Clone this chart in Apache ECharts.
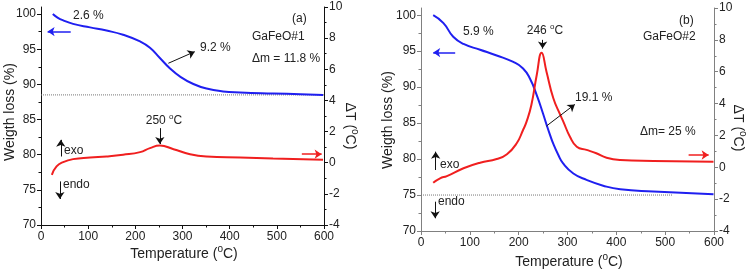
<!DOCTYPE html>
<html><head><meta charset="utf-8">
<script src="https://cdn.jsdelivr.net/npm/echarts@6/dist/echarts.min.js"></script>
<style>html,body{margin:0;padding:0;background:#fff}#c{width:749px;height:272px}</style>
</head><body><div id="c"></div>
<script>
// ---------- data ----------
const weightMajor = [70, 75, 80, 85, 90, 95, 100];
const weightMinor = [72.5, 77.5, 82.5, 87.5, 92.5, 97.5];

// Panel (a) GaFeO#1 – TG (weight %, left axis)
const tgA_T = [25, 35, 47, 68, 104, 139, 174, 210, 231, 252, 273, 295, 323, 351, 386, 422, 492, 550, 598];
const tgA_W = [100.0, 99.5, 99.1, 98.6, 98.1, 97.65, 97.05, 96.1, 95.2, 93.75, 92.3, 91.1, 90.05, 89.4, 89.0, 88.85, 88.7, 88.6, 88.5];
// Panel (a) DTA (ΔT, right axis)
const dtaA_T = [23, 33, 47, 68, 104, 139, 174, 210, 231, 252, 281, 316, 351, 422, 492, 598];
const dtaA_V = [-0.78, -0.24, 0.04, 0.23, 0.33, 0.40, 0.51, 0.68, 0.94, 1.10, 0.87, 0.55, 0.40, 0.33, 0.27, 0.19];
// Panel (a) dotted baseline
const baseA_T = [0, 600];
const baseA_W = [88.5, 88.5];

// Panel (b) GaFeO#2 – TG
const tgB_T = [25, 46, 66, 87, 121, 155, 189, 209, 223, 237, 250, 257, 264, 271, 281, 291, 312, 339, 373, 408, 476, 599];
const tgB_W = [100.0, 98.9, 97.0, 96.0, 95.2, 94.4, 93.5, 92.6, 91.2, 88.9, 86.3, 84.8, 83.4, 82.1, 80.6, 79.4, 78.0, 77.1, 76.3, 75.8, 75.5, 75.1];
// Panel (b) DTA
const dtaB_T = [25, 39, 53, 87, 121, 155, 176, 196, 209, 216, 226, 237, 247, 257, 271, 285, 291, 305, 319, 339, 359, 380, 408, 476, 599];
const dtaB_V = [-0.97, -0.69, -0.55, -0.06, 0.29, 0.52, 0.82, 1.51, 2.34, 2.85, 3.91, 5.79, 7.19, 6.0, 4.33, 3.3, 2.9, 1.92, 1.29, 1.09, 0.88, 0.60, 0.46, 0.40, 0.35];
// Panel (b) dotted baseline
const baseB_T = [0, 516];
const baseB_W = [75, 75];

// annotation arrows in data coordinates
const arrowsA_W = [
  { from: [63, 97.5], to: [14, 97.5], color: '#1f1ff0', w: 1.5 },
  { from: [270, 93.0], to: [326, 94.65], color: '#111', w: 1 }
];
const arrowsA_T = [
  { from: [252, 2.22], to: [252, 1.2], color: '#111', w: 1 },
  { from: [42, 0.4], to: [42, 1.47], color: '#111', w: 1 },
  { from: [40, -1.2], to: [40, -2.33], color: '#111', w: 1 },
  { from: [553, 0.55], to: [595, 0.55], color: '#f01f1f', w: 1.5 }
];
const arrowsB_W = [
  { from: [70, 94.8], to: [25, 94.8], color: '#1f1ff0', w: 1.5 },
  { from: [257, 84.6], to: [315, 87.6], color: '#111', w: 1 }
];
const arrowsB_T = [
  { from: [249, 8.0], to: [249, 7.45], color: '#111', w: 1 },
  { from: [30, -0.17], to: [30, 0.98], color: '#111', w: 1 },
  { from: [29, -2.16], to: [29, -3.2], color: '#111', w: 1 },
  { from: [548, 0.77], to: [589, 0.77], color: '#f01f1f', w: 1.5 }
];

// ---------- chart ----------
const FONT = "'Liberation Sans', Arial, sans-serif";
const zip = (a, b) => a.map((v, i) => [v, b[i]]);
const mkArrows = list => ({
  silent: true, animation: false, symbol: ['none', 'arrow'], symbolSize: 7,
  label: { show: false },
  data: list.map(a => [
    { coord: a.from, lineStyle: { color: a.color, width: a.w, type: 'solid' }, itemStyle: { color: a.color } },
    { coord: a.to, itemStyle: { color: a.color } }
  ])
});

function xAxis(grid, col) {
  return {
    type: 'value', gridIndex: grid, min: 0, max: 600, interval: 100,
    axisLine: { show: true, onZero: false, lineStyle: { color: col, width: 1 } },
    axisTick: { show: true, inside: false, length: 4, lineStyle: { color: col } },
    minorTick: { show: true, splitNumber: 2, length: 2.5, lineStyle: { color: col } },
    axisLabel: { color: '#222', fontSize: 12, fontFamily: FONT, margin: 6 },
    splitLine: { show: false }, minorSplitLine: { show: false }
  };
}
function yLeft(grid, col) {
  return {
    type: 'value', gridIndex: grid, position: 'left', min: 70, max: 101,
    axisLine: { show: true, onZero: false, lineStyle: { color: col } },
    axisTick: { show: true, inside: false, length: 4, customValues: weightMajor, lineStyle: { color: col } },
    axisLabel: { color: '#222', fontSize: 12, fontFamily: FONT, margin: 5, customValues: weightMajor },
    splitLine: { show: false }
  };
}
function yLeftMinor(grid, col) {
  return {
    type: 'value', gridIndex: grid, position: 'left', min: 70, max: 101,
    axisLine: { show: false },
    axisTick: { show: true, inside: false, length: 2.5, customValues: weightMinor, lineStyle: { color: col } },
    axisLabel: { show: false },
    splitLine: { show: false }
  };
}
function yRight(grid, col) {
  return {
    type: 'value', gridIndex: grid, position: 'right', min: -4, max: 10, interval: 2,
    axisLine: { show: true, onZero: false, lineStyle: { color: col } },
    axisTick: { show: true, inside: false, length: 4, lineStyle: { color: col } },
    minorTick: { show: true, splitNumber: 2, length: 2.5, lineStyle: { color: col } },
    axisLabel: { color: '#222', fontSize: 12, fontFamily: FONT, margin: 5 },
    splitLine: { show: false }, minorSplitLine: { show: false }
  };
}

const BLUE = '#1f1ff0', RED = '#f01f1f';
const lineS = (xi, yi, data, color, arrows) => ({
  type: 'line', xAxisIndex: xi, yAxisIndex: yi, data, smooth: 0.5,
  symbol: 'none', lineStyle: { color, width: 2 }, itemStyle: { color }, animation: false,
  markLine: arrows ? mkArrows(arrows) : undefined
});
const dotS = (xi, yi, data) => ({
  type: 'line', xAxisIndex: xi, yAxisIndex: yi, data, symbol: 'none', animation: false,
  lineStyle: { color: '#777', width: 1, type: [1, 1] }, z: 1
});

const txt = (x, y, text, opts = {}) => {
  const size = opts.size || 12;
  const style = {
    text, fill: '#222', font: size + 'px ' + FONT,
    fontSize: size, fontFamily: FONT,
    align: opts.align || 'left', verticalAlign: 'middle'
  };
  if (opts.sup) {
    style.lineHeight = size + 5;
    style.rich = { s: { fontSize: Math.round(size * 0.68), fontFamily: FONT, verticalAlign: 'top', lineHeight: Math.round(size * 0.68), fill: '#222' } };
  }
  return { type: 'text', x, y, rotation: opts.rot || 0, silent: true, style };
};

const option = {
  backgroundColor: '#fff',
  animation: false,
  grid: [
    { left: 41, top: 7, width: 283, height: 218 },
    { left: 421, top: 8, width: 293, height: 223 }
  ],
  xAxis: [xAxis(0, '#111'), xAxis(1, '#808080')],
  yAxis: [
    yLeft(0, '#111'), yRight(0, '#111'), yLeftMinor(0, '#111'),
    yLeft(1, '#808080'), yRight(1, '#808080'), yLeftMinor(1, '#808080')
  ],
  series: [
    dotS(0, 0, zip(baseA_T, baseA_W)),
    lineS(0, 0, zip(tgA_T, tgA_W), BLUE, arrowsA_W),
    lineS(0, 1, zip(dtaA_T, dtaA_V), RED, arrowsA_T),
    dotS(1, 3, zip(baseB_T, baseB_W)),
    lineS(1, 3, zip(tgB_T, tgB_W), BLUE, arrowsB_W),
    lineS(1, 4, zip(dtaB_T, dtaB_V), RED, arrowsB_T)
  ],
  graphic: [
    // panel a
    txt(73, 16, '2.6 %'),
    txt(200, 48, '9.2 %'),
    txt(292, 19, '(a)'),
    txt(252, 37, 'GaFeO#1'),
    txt(252, 59, '\u0394m = 11.8 %'),
    txt(164, 121, '250 {s|o}C', { align: 'center', sup: true }),
    txt(64, 151, 'exo'),
    txt(63, 185, 'endo'),
    txt(10, 112, 'Weigth loss (%)', { rot: Math.PI / 2, align: 'center', size: 14 }),
    txt(184, 254, 'Temperature ({s|o}C)', { align: 'center', size: 14, sup: true }),
    txt(350, 126, '\u0394T ({s|o}C)', { rot: -Math.PI / 2, align: 'center', size: 14, sup: true }),
    // panel b
    txt(463, 32, '5.9 %'),
    txt(545, 31, '246 {s|o}C', { align: 'center', sup: true }),
    txt(575, 98, '19.1 %'),
    txt(679, 21, '(b)'),
    txt(643, 37, 'GaFeO#2'),
    txt(640, 132, '\u0394m= 25 %'),
    txt(440, 165, 'exo'),
    txt(438, 202, 'endo'),
    txt(388, 120, 'Weigth loss (%)', { rot: Math.PI / 2, align: 'center', size: 14 }),
    txt(569, 262, 'Temperature ({s|o}C)', { align: 'center', size: 14, sup: true }),
    txt(738, 128, '\u0394T ({s|o}C)', { rot: -Math.PI / 2, align: 'center', size: 14, sup: true })
  ]
};
const chart = echarts.init(document.getElementById('c'), null, { renderer: 'canvas' });
chart.setOption(option);
</script></body></html>
